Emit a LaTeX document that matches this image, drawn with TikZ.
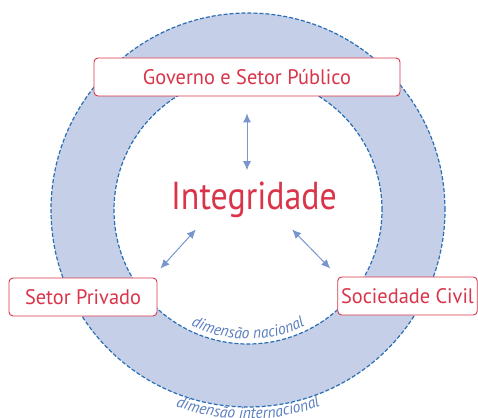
\documentclass[tikz,border=0pt]{standalone}
\usepackage{fontspec}
\usetikzlibrary{arrows.meta,decorations.text}
\newfontfamily\labelfont[FakeStretch=0.97]{PT Sans}
\newfontfamily\titlefont[FakeStretch=0.87]{PT Sans}
\definecolor{ringfill}{HTML}{C5CFE7}
\definecolor{ringline}{HTML}{2A6EB4}
\definecolor{linkblue}{HTML}{7896CD}
\definecolor{dimblue}{HTML}{5A7DBE}
\definecolor{boxred}{HTML}{D9344A}
\begin{document}
\begin{tikzpicture}[x=1pt,y=1pt,
        actor/.style={draw=boxred,line width=0.9pt,fill=white,rounded corners=4pt,
                      minimum height=38pt,text=boxred,font=\labelfont\fontsize{21}{24}\selectfont},
        link/.style={draw=linkblue,line width=1pt,{Latex[length=9pt,width=8pt]}-{Latex[length=9pt,width=8pt]}},
        ringdash/.style={draw=ringline,line width=1.2pt,dash pattern=on 4pt off 2pt}
    ]
    \useasboundingbox (-248,-207) rectangle (230,210);
    % the two dimensions
    \fill[ringfill,even odd rule] (0,0) circle (197pt) (0,0) circle (134pt);
    \draw[ringdash] (0,0) circle (197pt);
    \draw[ringdash] (0,0) circle (134pt);
    \path[decorate,decoration={text along path,text align=center,
            text={|\labelfont\itshape\fontsize{16}{18}\selectfont\color{dimblue}|dimensão nacional}}]
        (225:129pt) arc[start angle=225,end angle=315,radius=129pt];
    \path[decorate,decoration={text along path,text align=center,
            text={|\labelfont\itshape\fontsize{16}{18}\selectfont\color{dimblue}|dimensão internacional}}]
        (232:209pt) arc[start angle=232,end angle=308,radius=209pt];
    % the actors
    \node[actor,minimum width=306pt] (gov)  at (-1,133)    {Governo e Setor Público};
    \node[actor,minimum width=148pt] (priv) at (-165,-87)  {Setor Privado};
    \node[actor,minimum width=139pt] (soc)  at (159.5,-86) {Sociedade Civil};
    \node[anchor=base,inner sep=0pt,text=boxred,font=\titlefont\fontsize{39}{42}\selectfont]
        (integ) at (6,0) {Integridade};
    \draw[link] ([yshift=-17pt]gov.south) -- ([yshift=12pt]gov.south |- integ.north);
    \draw[link] ([shift={(3,9)}]priv.north east) -- ([shift={(25,-11)}]integ.south west);
    \draw[link] ([shift={(-45,-11)}]integ.south east) -- ([shift={(-7,8)}]soc.north west);
\end{tikzpicture}
\end{document}
